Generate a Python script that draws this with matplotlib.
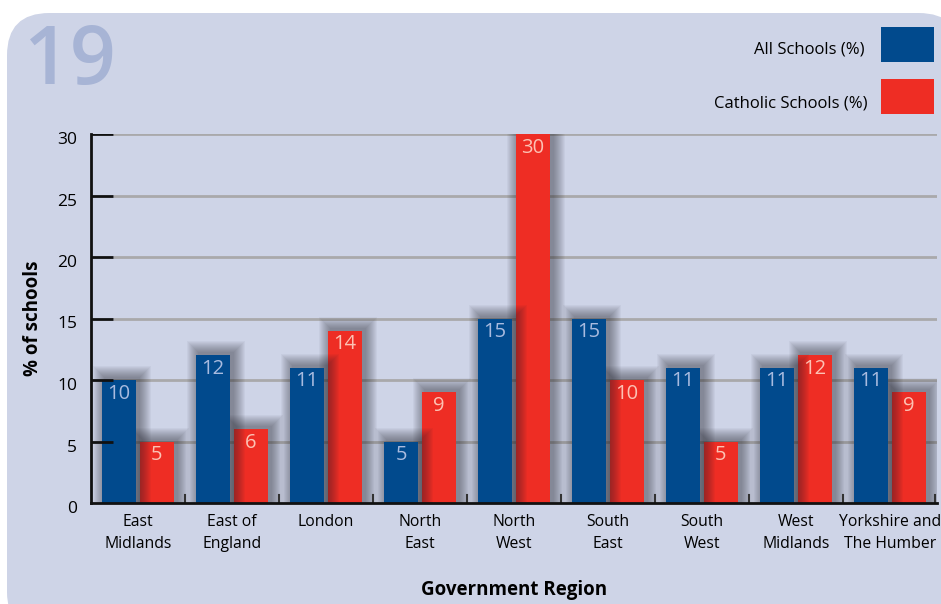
import numpy as np
import matplotlib.pyplot as plt
import matplotlib.transforms as mtransforms
from matplotlib.patches import Rectangle, FancyBboxPatch

plt.rcParams['font.family'] = ['Open Sans', 'DejaVu Sans']

regions = ['East\nMidlands', 'East of\nEngland', 'London', 'North\nEast', 'North\nWest',
           'South\nEast', 'South\nWest', 'West\nMidlands', 'Yorkshire and\nThe Humber']
all_schools = [10, 12, 11, 5, 15, 15, 11, 11, 11]
catholic_schools = [5, 6, 14, 9, 30, 10, 5, 12, 9]
yticks = [0, 5, 10, 15, 20, 25, 30]

blue = '#014a8d'
red = '#ee2d24'
panel = '#ced4e7'

W, H = 941, 604
fig = plt.figure(figsize=(W / 100, H / 100), dpi=100)
fig.patch.set_facecolor('white')

# rounded background panel
bg = FancyBboxPatch((7 / W, -0.05), (W - 7 + 20) / W, (H - 13) / H + 0.05,
                    boxstyle='round,pad=0,rounding_size=0.045',
                    transform=fig.transFigure, facecolor=panel, edgecolor='none',
                    mutation_aspect=W / H, zorder=-10)
fig.patches.append(bg)

fig.text(24 / W, 1 - 63 / H, '19', fontsize=58, fontweight='semibold', color='#a7b4d5',
         va='center', ha='left', zorder=-5)

ax = fig.add_axes([91 / W, 1 - 503 / H, (937 - 91) / W, (503 - 134) / H])
ax.set_facecolor('none')
ax.set_xlim(-0.5, len(regions) - 0.5)
ax.set_ylim(0, 30)

# pixel size in data units, used for the soft shadows
px = 1.0 / 94
py = 30.0 / 369

width = 0.36
x = np.arange(len(regions))


def shadowed_bars(xs, vals, color, z):
    for xc, v in zip(xs, vals):
        x0 = xc - width / 2
        for r in range(1, 13):
            ax.add_patch(Rectangle((x0 - r * px + 3 * px, 0), width + 2 * r * px,
                                   v + r * py + 2 * py, facecolor='#25252e',
                                   edgecolor='none', alpha=0.045, zorder=z))
        ax.add_patch(Rectangle((x0, 0), width, v, facecolor=color,
                               edgecolor='none', zorder=z + 0.5))


# gridlines and y tick marks
for t in yticks[1:]:
    ax.plot([-0.5 + 22 * px, len(regions) - 0.5], [t, t], color='#a9a9ab', lw=2,
            zorder=1, solid_capstyle='butt')
    ax.plot([-0.5, -0.5 + 22 * px], [t, t], color='#111111', lw=2, zorder=6,
            solid_capstyle='butt')

shadowed_bars(x + 0.2, catholic_schools, red, 2)
shadowed_bars(x - 0.2, all_schools, blue, 3)

for xc, v in zip(x - 0.2, all_schools):
    ax.text(xc, v - 0.3, str(v), ha='center', va='top', fontsize=14.5,
            color='#a9bbdf', zorder=5)
for xc, v in zip(x + 0.2, catholic_schools):
    ax.text(xc, v - 0.3, str(v), ha='center', va='top', fontsize=14.5,
            color='#fcc2b4', zorder=5)

# small ticks between region groups
for b in x[:-1] + 0.5:
    ax.plot([b, b], [0, 8 * py], color='#333333', lw=1.5, zorder=6)
ax.plot([len(regions) - 0.5 - 2 * px] * 2, [0, 8 * py], color='#333333', lw=1.5, zorder=6)

for s in ['top', 'right']:
    ax.spines[s].set_visible(False)
for s in ['left', 'bottom']:
    ax.spines[s].set_linewidth(2)
    ax.spines[s].set_color('#111111')
    ax.spines[s].set_zorder(7)

ax.set_yticks(yticks)
ax.set_yticklabels([str(t) for t in yticks], fontsize=12.5)
ax.tick_params(axis='y', length=0, pad=10)
# y tick labels sit a little below their gridlines
off = mtransforms.ScaledTranslation(0, -4 / 100, fig.dpi_scale_trans)
for lbl in ax.get_yticklabels():
    lbl.set_transform(lbl.get_transform() + off)

ax.set_xticks(x)
ax.set_xticklabels(regions, fontsize=11.3, linespacing=1.5)
ax.tick_params(axis='x', length=0, pad=8)

ax.set_ylabel('% of schools', fontsize=13.5, fontweight='bold', labelpad=10)
ax.set_xlabel('Government Region', fontsize=13.5, fontweight='bold', labelpad=20)

# legend swatches
fig.text(865 / W, 1 - 50 / H, 'All Schools (%)', ha='right', va='center', fontsize=12)
fig.text(868 / W, 1 - 103 / H, 'Catholic Schools (%)', ha='right', va='center', fontsize=12)
fig.patches.append(Rectangle((881 / W, 1 - 62 / H), 53 / W, 35 / H, transform=fig.transFigure,
                             facecolor=blue, edgecolor='none'))
fig.patches.append(Rectangle((881 / W, 1 - 114 / H), 53 / W, 35 / H, transform=fig.transFigure,
                             facecolor=red, edgecolor='none'))

fig.savefig('out.png', dpi=100)
